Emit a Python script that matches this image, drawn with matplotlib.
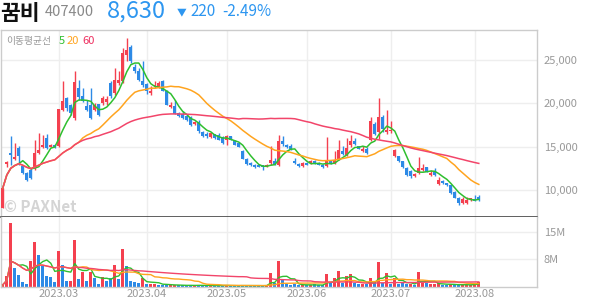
import numpy as np
import pandas as pd
import matplotlib
matplotlib.use("Agg")
import matplotlib.pyplot as plt
from matplotlib.ticker import FuncFormatter

plt.rcParams['font.family'] = ['Noto Sans CJK KR', 'DejaVu Sans']

# trading days shown in each month (first day of each month gets a gridline)
month_labels = ["2023.02", "2023.03", "2023.04", "2023.05", "2023.06", "2023.07", "2023.08"]
month_days = [14, 22, 20, 20, 21, 21, 2]

opens = [7880, 13000, 14250, 13500, 14820, 12700, 11930, 12300, 12500, 14240,
         14980, 15980, 15000, 15200, 15020, 19260, 20610, 19840, 18300, 21750,
         20800, 19630, 19840, 19260, 19915, 20030, 20100, 22346, 21190, 22350,
         22540, 25620, 26510, 24160, 23700, 22540, 22230, 21190, 21960, 21900,
         22530, 21460, 19600, 19720, 18870, 18760, 18490, 18370, 17600, 17800,
         16680, 16480, 16100, 16440, 16370, 16060, 15710, 16170, 15670, 15400,
         14510, 13550, 13090, 12890, 12900, 12820, 12740, 13090, 13360, 12890,
         15590, 15200, 15010, 13280, 13010, 12700, 13090, 13090, 13360, 13090,
         12890, 12700, 13280, 13090, 13590, 14510, 13970, 15210, 15590, 15010,
         14510, 14750, 15800, 17600, 16700, 18400, 16700, 16750, 13900, 13860,
         13280, 12500, 12200, 11540, 11930, 12320, 12580, 11650, 12050, 10660,
         11040, 10770, 10500, 9730, 9040, 8460, 8460, 8880, 8920, 9110]
highs = [10200, 13300, 16170, 15400, 15020, 12800, 12000, 12500, 15790, 16560,
         16370, 16440, 15300, 15300, 19370, 22540, 20700, 19900, 23700, 22700,
         21800, 20400, 21770, 20030, 19950, 20800, 20800, 22540, 24080, 23700,
         26400, 27550, 26800, 24500, 24100, 24850, 22350, 21960, 22540, 22540,
         22700, 21500, 20200, 20420, 19000, 19070, 18600, 18490, 17900, 18100,
         16830, 16680, 16680, 16500, 16560, 16170, 16370, 16250, 15750, 15450,
         14600, 13670, 13200, 12970, 12970, 12900, 12970, 15010, 13660, 16370,
         16170, 15300, 15300, 13660, 13090, 13200, 13200, 13400, 13450, 13200,
         12970, 16060, 13400, 14440, 15710, 15010, 15980, 16290, 15980, 15100,
         15010, 14900, 18400, 17800, 20570, 18700, 19200, 17900, 14700, 13950,
         13350, 12580, 12310, 11900, 13780, 12970, 12600, 12310, 12500, 11470,
         11160, 10800, 10580, 9800, 9100, 9150, 9150, 9040, 9420, 9350]
lows = [7880, 12600, 12890, 13400, 12890, 11800, 11050, 11200, 12310, 14130,
        14820, 14750, 14900, 14800, 15000, 19070, 19070, 18700, 18100, 20400,
        20100, 19100, 18200, 19070, 18500, 19800, 19800, 20600, 21000, 22150,
        22350, 24850, 24700, 23500, 22600, 21900, 21070, 20960, 21750, 21750,
        21380, 19840, 19500, 18760, 18400, 18200, 18000, 17330, 17450, 16560,
        16060, 16000, 16000, 15900, 15700, 15280, 15130, 15700, 15130, 14900,
        13500, 12900, 12700, 12500, 12600, 12310, 12660, 12820, 12820, 12700,
        15010, 14800, 14600, 12970, 12580, 12580, 12820, 12970, 13000, 12820,
        12500, 12580, 13000, 12970, 13470, 13970, 13850, 14900, 15130, 14700,
        14360, 14100, 15600, 16300, 15900, 16700, 16500, 16600, 13800, 13150,
        12470, 11540, 11350, 11500, 11810, 12200, 12000, 11540, 11540, 10590,
        10700, 10450, 9500, 9000, 8260, 8400, 8380, 8650, 8650, 8700]
closes = [10200, 13200, 14050, 13750, 13860, 11930, 11160, 11350, 14240, 14630,
          15210, 14820, 15150, 14900, 19370, 20300, 19450, 18870, 22500, 20780,
          20300, 19260, 18290, 19840, 18603, 20610, 20500, 20800, 22730, 22730,
          25820, 26200, 24850, 23700, 22730, 22150, 21380, 21380, 22150, 22300,
          21380, 19840, 19840, 18760, 18490, 18300, 18100, 17520, 17830, 16750,
          16170, 16170, 16560, 15980, 15790, 15400, 16170, 15790, 15210, 14980,
          13590, 12970, 12820, 12580, 12660, 12580, 12890, 13470, 12890, 15590,
          15320, 14940, 14700, 13050, 12780, 13090, 12900, 13280, 13090, 12890,
          12660, 13280, 13090, 13470, 14630, 14130, 14820, 15590, 15280, 14750,
          14750, 14240, 18000, 16400, 18450, 17000, 16950, 16950, 14550, 13280,
          12580, 11740, 11540, 11810, 12510, 12510, 12050, 11930, 11650, 11160,
          10770, 10500, 9610, 9040, 8460, 8960, 8840, 9000, 8730, 8880]
# volume in millions of shares
volume_m = [0.5, 3.1, 18.7, 5.4, 3.4, 1.2, 0.8, 7.5, 13.1, 9.3,
            5.9, 3.1, 2.7, 1.2, 10.4, 6.3, 1.5, 1.7, 13.7, 2.2,
            4.4, 1.5, 4.2, 2.5, 0.8, 2.9, 1.7, 2.4, 6.3, 2.2,
            11.0, 5.9, 1.5, 1.2, 1.0, 2.6, 0.8, 0.8, 0.8, 0.5,
            0.5, 0.5, 0.4, 0.4, 0.3, 0.3, 0.3, 0.4, 0.3, 0.4,
            0.3, 0.2, 0.3, 0.2, 0.3, 0.3, 0.3, 0.2, 0.2, 0.2,
            0.4, 0.3, 0.2, 0.2, 0.2, 0.3, 0.4, 4.1, 1.0, 7.5,
            1.8, 0.6, 0.5, 0.7, 0.4, 0.4, 0.4, 0.5, 0.6, 0.3,
            0.3, 3.7, 1.0, 2.4, 4.6, 1.1, 3.2, 3.7, 1.0, 0.6,
            0.7, 0.6, 2.4, 0.9, 7.2, 1.1, 4.0, 0.8, 2.4, 0.8,
            0.9, 0.7, 0.8, 0.5, 4.4, 0.9, 0.9, 0.8, 0.7, 0.9,
            0.5, 0.5, 0.7, 0.5, 0.4, 0.5, 0.5, 0.5, 1.0, 1.2]
# u = red volume bar, d = blue volume bar (10 days per chunk)
vol_dir = ("uuudddduud" "ddddudduud" "ududduddud" "udddduduud"
           "dduuddddud" "dduddduddd" "dddddduudu" "dddddududd"
           "duduuduudd" "ududududud" "dduduuduuu" "ddudduuuuu")

RED = "#f4404f"
BLUE = "#2d8ae6"
ma_colors = {5: "#2fbf2f", 20: "#ffa41f", 60: "#f2456a"}

n = len(closes)
x = np.arange(n)
df = pd.DataFrame({"open": opens, "high": highs, "low": lows, "close": closes,
                   "vol": np.array(volume_m) * 1e6})
up = df["close"] >= df["open"]
candle_col = np.where(up, RED, BLUE)
vol_col = [RED if c == "u" else BLUE for c in vol_dir[:n]]

month_idx = np.cumsum([0] + month_days)[1:-1]

fig = plt.figure(figsize=(5.94, 3.04), dpi=100)
ax = fig.add_axes([1 / 594, 1 - 217.3 / 304, 536 / 594, 187.3 / 304])
axv = fig.add_axes([1 / 594, 1 - 286.5 / 304, 536 / 594, 69.2 / 304], sharex=ax)

# candles
ax.vlines(x, df["low"], df["high"], colors=candle_col, lw=1, zorder=2)
body_h = np.maximum((df["close"] - df["open"]).abs(), 70)
ax.bar(x, body_h, bottom=np.minimum(df["open"], df["close"]), width=0.75,
       color=candle_col, zorder=3)
for w in (5, 20, 60):
    ax.plot(x, df["close"].rolling(w, min_periods=1).mean(), color=ma_colors[w],
            lw=1.1, zorder=4)

# volume
axv.bar(x, df["vol"], width=0.75, color=vol_col, zorder=2)
for w in (5, 20, 60):
    axv.plot(x, df["vol"].rolling(w, min_periods=1).mean(), color=ma_colors[w],
             lw=1.0, zorder=4)

ax.set_xlim(-0.45, 133.55)
ax.set_ylim(6806, 28484)
axv.set_ylim(0, 20.3e6)

ax.set_yticks([10000, 15000, 20000, 25000])
ax.yaxis.set_major_formatter(FuncFormatter(lambda v, p: f"{int(v):,}"))
axv.set_yticks([7.95e6, 15.9e6])
axv.set_yticklabels(["8M", "15M"])
axv.set_xticks(month_idx)
axv.set_xticklabels(month_labels[1:])

for a in (ax, axv):
    a.yaxis.tick_right()
    a.tick_params(axis="y", length=0, pad=5, labelsize=8, labelcolor="#999999")
    a.tick_params(axis="x", length=0, pad=2, labelsize=8, labelcolor="#999999")
    a.grid(True, color="#eeeeee", lw=1, zorder=0)
    a.set_axisbelow(True)
    a.set_facecolor("white")
    for s in a.spines.values():
        s.set_color("#cccccc")
        s.set_linewidth(1)
ax.tick_params(axis="x", labelbottom=False)
ax.spines["bottom"].set_color("#444444")
ax.spines["bottom"].set_linewidth(1.2)
axv.spines["top"].set_visible(False)

# legend text inside chart
fig.text(6 / 594, 1 - 41 / 304, "이동평균선", fontsize=7, color="#999999", va="center")
fig.text(59 / 594, 1 - 41 / 304, "5", fontsize=8, color=ma_colors[5], va="center")
fig.text(67 / 594, 1 - 41 / 304, "20", fontsize=8, color=ma_colors[20], va="center")
fig.text(82 / 594, 1 - 41 / 304, "60", fontsize=8, color="#ee3060", va="center")

# watermark
fig.text(4 / 594, 1 - 207 / 304, "© PAXNet", fontsize=11, fontweight="bold",
         color="#d4d4d4", va="center")

# header
fig.text(0, 1 - 13 / 304, "꿈비", fontsize=15.5, fontweight="bold", color="#111111", va="center")
fig.text(45 / 594, 1 - 12 / 304, "407400", fontsize=10.5, color="#888888", va="center")
fig.text(107 / 594, 1 - 11 / 304, "8,630", fontsize=17, color="#2d96f0", va="center")
fig.text(177 / 594, 1 - 12 / 304, "▼", fontsize=7, color="#2d96f0", va="center")
fig.text(190 / 594, 1 - 12 / 304, "220", fontsize=11, color="#2d96f0", va="center")
fig.text(222 / 594, 1 - 12 / 304, "-2.49%", fontsize=11, color="#2d96f0", va="center")

fig.savefig("out.png", dpi=100, facecolor="white")
